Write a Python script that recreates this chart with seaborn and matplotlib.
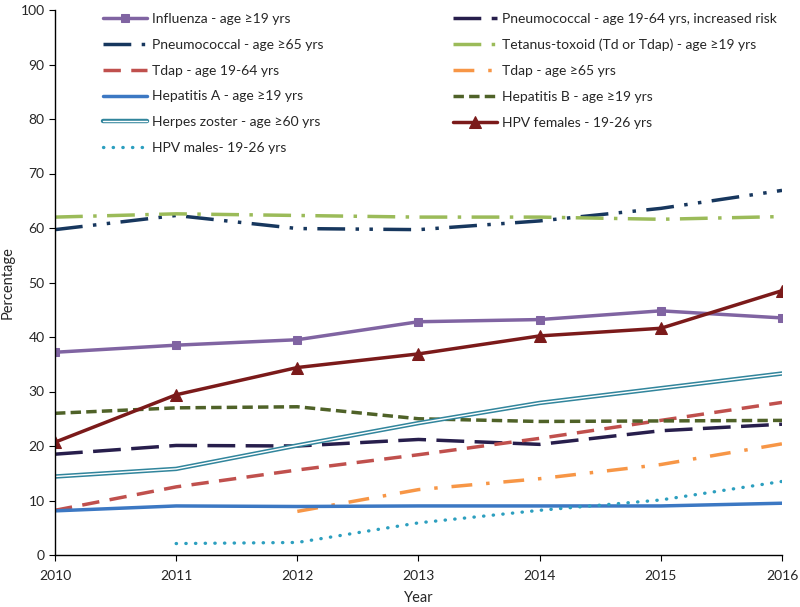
import numpy as np
import pandas as pd
import seaborn as sns
import matplotlib.pyplot as plt
import matplotlib.patheffects as pe

years = [2010, 2011, 2012, 2013, 2014, 2015, 2016]

influenza = [37.2, 38.5, 39.5, 42.8, 43.2, 44.8, 43.5]
pneumo_risk = [18.5, 20.1, 20.0, 21.2, 20.3, 22.8, 24.0]
pneumo_65 = [59.7, 62.3, 59.9, 59.7, 61.3, 63.6, 66.9]
tetanus = [62.0, 62.6, 62.3, 62.0, 62.0, 61.6, 62.1]
tdap_19_64 = [8.2, 12.5, 15.6, 18.4, 21.4, 24.7, 28.0]
tdap_65 = [np.nan, np.nan, 8.0, 12.0, 14.0, 16.6, 20.4]
hep_a = [8.1, 9.0, 8.9, 9.0, 9.0, 9.0, 9.5]
hep_b = [26.0, 27.0, 27.2, 25.0, 24.5, 24.6, 24.7]
zoster = [14.4, 15.8, 20.1, 24.2, 27.9, 30.6, 33.3]
hpv_f = [20.7, 29.4, 34.4, 36.9, 40.2, 41.6, 48.5]
hpv_m = [np.nan, 2.1, 2.3, 5.9, 8.2, 10.1, 13.5]

sns.set_style("ticks")
plt.rcParams['font.family'] = ['Lato', 'DejaVu Sans']

fig = plt.figure(figsize=(8, 6.07), dpi=100)
ax = fig.add_axes([55 / 800, 1 - 555 / 607, 727 / 800, 545 / 607])


def draw(vals, label, **kw):
    df = pd.DataFrame({'Year': years, 'Percentage': vals})
    sns.lineplot(data=df, x='Year', y='Percentage', ax=ax, label=label, **kw)


draw(influenza, 'Influenza - age \u226519 yrs', color='#8064A2', lw=2.5,
     marker='s', markersize=6, markeredgecolor='#8064A2')
draw(pneumo_risk, 'Pneumococcal - age 19-64 yrs, increased risk', color='#271E4C',
     lw=2.5, dashes=(8, 3))
draw(pneumo_65, 'Pneumococcal - age \u226565 yrs', color='#17375E', lw=2.5,
     dashes=(8, 3, 1, 3, 1, 3))
draw(tetanus, 'Tetanus-toxoid (Td or Tdap) - age \u226519 yrs', color='#9BBB59',
     lw=2.5, dashes=(8, 3, 1, 3))
draw(tdap_19_64, 'Tdap - age 19-64 yrs', color='#C0504D', lw=2.5, dashes=(5, 3))
draw(tdap_65, 'Tdap - age \u226565 yrs', color='#F79646', lw=2.5, dashes=(6, 4, 1, 4))
draw(hep_a, 'Hepatitis A - age \u226519 yrs', color='#3C78C3', lw=2.5)
draw(hep_b, 'Hepatitis B - age \u226519 yrs', color='#4F6228', lw=2.5, dashes=(3, 1.5))
draw(zoster, 'Herpes zoster - age \u226560 yrs', color='white', lw=1.0,
     path_effects=[pe.Stroke(linewidth=3.2, foreground='#31859C'), pe.Normal()])
draw(hpv_f, 'HPV females - 19-26 yrs', color='#7B1A1A', lw=2.5,
     marker='^', markersize=8, markeredgecolor='#7B1A1A')
draw(hpv_m, 'HPV males- 19-26 yrs', color='#2C9FBF', lw=2.4, dashes=(0.1, 2.8),
     dash_capstyle='round')

handles, labels = ax.get_legend_handles_labels()
order = [0, 2, 4, 6, 8, 10, 1, 3, 5, 7, 9]
ax.legend([handles[i] for i in order], [labels[i] for i in order], ncol=2,
          frameon=False, loc='upper left', bbox_to_anchor=(0.062, 1.0),
          fontsize=10, handlelength=3.2, handletextpad=0.35,
          columnspacing=9.3, labelspacing=1.0, borderaxespad=0, borderpad=0.2)

ax.set_xlim(2010, 2016)
ax.set_ylim(0, 100)
ax.set_yticks(range(0, 101, 10))
ax.set_xticks(years)
ax.tick_params(labelsize=10, length=4, color='black')
ax.tick_params(axis='x', pad=6.5)
ax.set_xlabel('Year', fontsize=10.5, labelpad=7)
ax.set_ylabel('Percentage', fontsize=10.5)
for s in ['top', 'right']:
    ax.spines[s].set_visible(False)
for s in ['left', 'bottom']:
    ax.spines[s].set_color('black')
    ax.spines[s].set_linewidth(1)

fig.savefig('out.png', dpi=100)
